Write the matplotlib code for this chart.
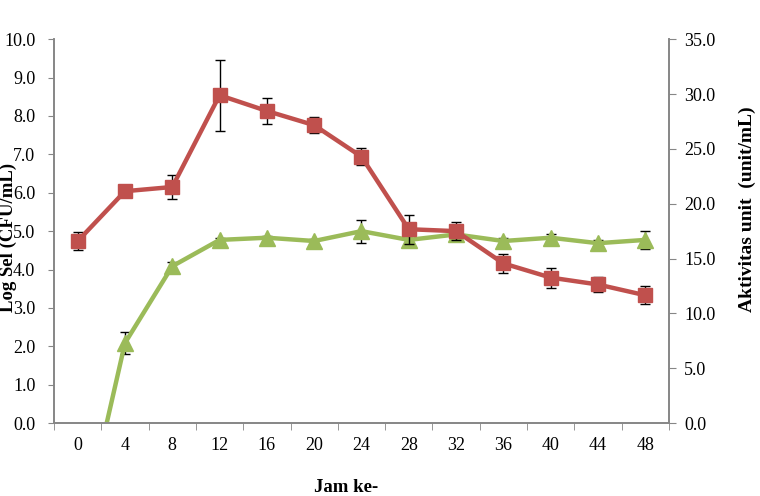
import matplotlib
matplotlib.use("Agg")
import matplotlib.pyplot as plt
from matplotlib.ticker import FixedLocator, NullFormatter

hours = ["0", "4", "8", "12", "16", "20", "24", "28", "32", "36", "40", "44", "48"]
log_sel = [4.74, 6.04, 6.15, 8.54, 8.13, 7.76, 6.94, 5.05, 5.00, 4.16, 3.79, 3.61, 3.33]
log_sel_err = [0.23, 0.08, 0.30, 0.92, 0.33, 0.21, 0.22, 0.38, 0.23, 0.25, 0.26, 0.20, 0.23]
aktivitas = [-11.6, 7.3, 14.3, 16.7, 16.9, 16.6, 17.5, 16.7, 17.2, 16.6, 16.9, 16.4, 16.7]
aktivitas_err = [0.0, 1.0, 0.35, 0.2, 0.2, 0.2, 1.05, 0.5, 0.3, 0.25, 0.35, 0.3, 0.84]

plt.rcParams['font.family'] = ['Liberation Serif', 'DejaVu Serif']
RED = '#C0504D'
GREEN = '#9BBB59'
SPINE = '#868686'

fig = plt.figure(figsize=(7.6, 4.96), dpi=100)
ax = fig.add_axes([0.0711, 0.147, 0.809, 0.774])
ax2 = ax.twinx()
ax.set_zorder(ax2.get_zorder() + 1)
ax.patch.set_visible(False)

x = list(range(len(hours)))

ax2.errorbar(x, aktivitas, yerr=aktivitas_err, color=GREEN, lw=3.2,
             marker='^', ms=11, mfc=GREEN, mec=GREEN,
             ecolor='black', elinewidth=1, capsize=3.5, capthick=1, clip_on=True)
ax.errorbar(x, log_sel, yerr=log_sel_err, color=RED, lw=3.2,
            marker='s', ms=10.5, mfc=RED, mec=RED,
            ecolor='black', elinewidth=1, capsize=3.5, capthick=1)

ax.set_xlim(-0.5, 12.5)
ax.set_ylim(0, 10)
ax2.set_ylim(0, 35)

ax.set_yticks([i for i in range(0, 11)])
ax.set_yticklabels([f"{i:.1f}" for i in range(0, 11)], fontsize=13)
ax2.set_yticks([i * 5 for i in range(0, 8)])
ax2.set_yticklabels([f"{i*5:.1f}" for i in range(0, 8)], fontsize=13)

ax.set_xticks(x)
ax.set_xticklabels(hours, fontsize=13)
ax.xaxis.set_minor_locator(FixedLocator([i - 0.5 for i in range(len(hours) + 1)]))
ax.xaxis.set_minor_formatter(NullFormatter())
ax.tick_params(axis='x', which='major', length=0, pad=10)
ax.tick_params(axis='x', which='minor', length=5, color=SPINE, direction='out')
ax.tick_params(axis='y', length=4.5, color=SPINE, direction='out', pad=9)
ax2.tick_params(axis='y', length=5, color=SPINE, direction='out', pad=6)

for a in (ax, ax2):
    a.spines['top'].set_visible(False)
    for s in ('left', 'right', 'bottom'):
        a.spines[s].set_color(SPINE)
        a.spines[s].set_linewidth(1.2)

ax.set_ylabel("Log Sel (CFU/mL)", fontsize=13.5, fontweight='bold')
ax.yaxis.set_label_coords(-0.060, 0.484)
ax2.set_ylabel("Aktivitas unit  (unit/mL)", fontsize=14, fontweight='bold')
ax2.yaxis.set_label_coords(1.114, 0.557)
ax.set_xlabel("Jam ke-", fontsize=13.5, fontweight='bold')
ax.xaxis.set_label_coords(0.475, -0.145)

fig.savefig("out.png", dpi=100)
